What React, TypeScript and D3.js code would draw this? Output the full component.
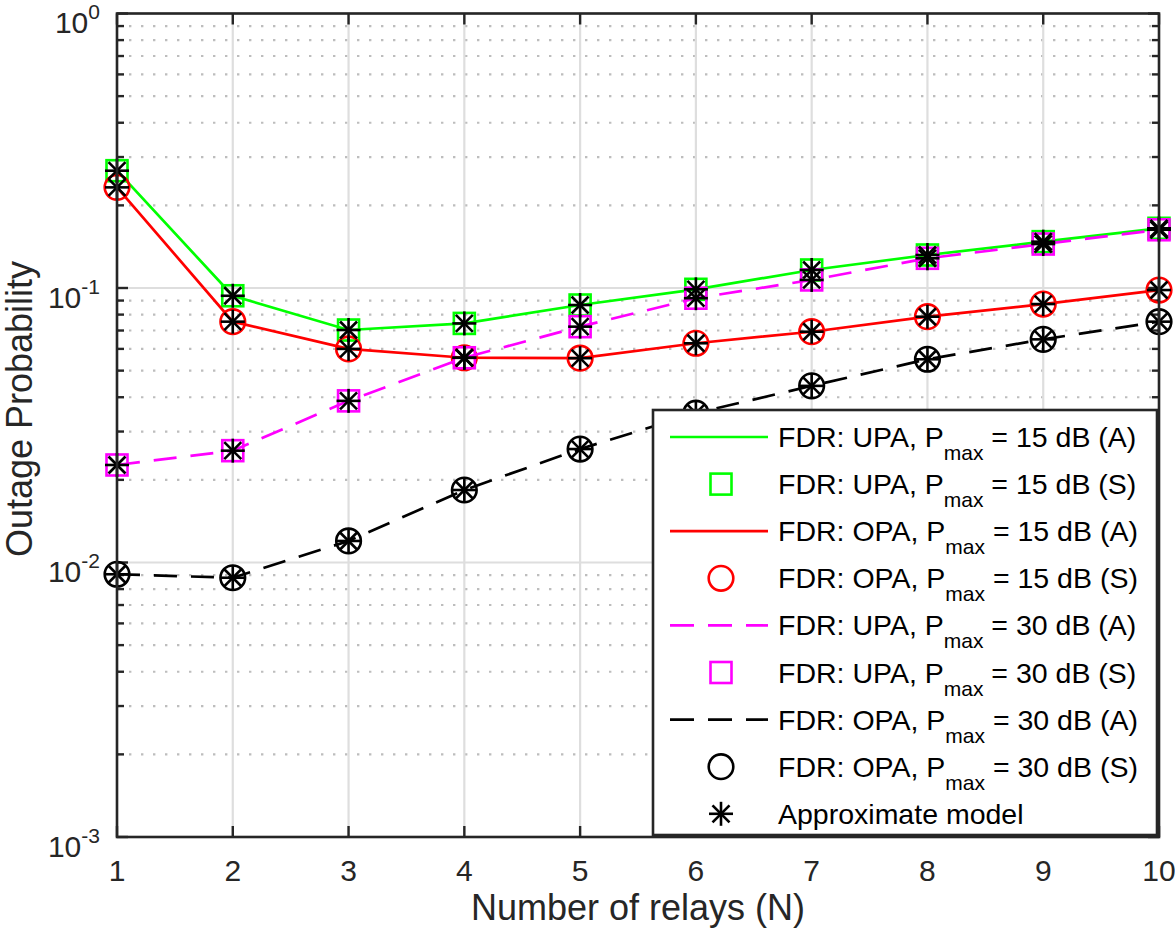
import React from "react";
import * as d3 from "d3";

const relays = [1, 2, 3, 4, 5, 6, 7, 8, 9, 10];
const upa15 = [0.2675, 0.0937, 0.0703, 0.0743, 0.0867, 0.0989, 0.1163, 0.1319, 0.1475, 0.165];
const opa15 = [0.2326, 0.0754, 0.06, 0.0557, 0.0555, 0.0629, 0.0693, 0.0786, 0.0874, 0.0983];
const upa30 = [0.02266, 0.02555, 0.0388, 0.0557, 0.0723, 0.0918, 0.107, 0.1283, 0.1446, 0.163];
const opa30 = [0.00906, 0.0088, 0.01198, 0.01837, 0.0259, 0.035, 0.044, 0.055, 0.065, 0.0754];
const yDecades = [-3, -2, -1, 0];
const xTicks = relays;

const W = 1175;
const H = 934;
const L = 117, R = 1159, T = 13.5, B = 837;
const AX = "#262626";
const FONT = "'Liberation Sans', Arial, Helvetica, sans-serif";

type Series = { values: number[]; color: string; dash?: string; marker: "square" | "circle"; pmax: string; alg: string };
const seriesList: Series[] = [
  { values: upa15, color: "#00ff00", marker: "square", pmax: "15", alg: "UPA" },
  { values: opa15, color: "#ff0000", marker: "circle", pmax: "15", alg: "OPA" },
  { values: upa30, color: "#ff00ff", dash: "23 14", marker: "square", pmax: "30", alg: "UPA" },
  { values: opa30, color: "#000000", dash: "23 14", marker: "circle", pmax: "30", alg: "OPA" },
];

function Marker({ kind, x, y, color }: { kind: string; x: number; y: number; color: string }) {
  if (kind === "square")
    return <rect x={x - 10.5} y={y - 10.5} width={21} height={21} fill="none" stroke={color} strokeWidth={2.6} />;
  if (kind === "circle") return <circle cx={x} cy={y} r={12.3} fill="none" stroke={color} strokeWidth={2.6} />;
  const a = 12, d = 8.5;
  return (
    <g stroke="#000" strokeWidth={2.6}>
      <line x1={x - a} y1={y} x2={x + a} y2={y} />
      <line x1={x} y1={y - a} x2={x} y2={y + a} />
      <line x1={x - d} y1={y - d} x2={x + d} y2={y + d} />
      <line x1={x - d} y1={y + d} x2={x + d} y2={y - d} />
    </g>
  );
}

export default function App() {
  const x = d3.scaleLinear().domain([1, 10]).range([L, R]);
  const y = d3.scaleLog().domain([1e-3, 1]).range([B, T]);
  const line = d3
    .line<number>()
    .x((_, i) => x(relays[i]))
    .y((v) => y(v));

  const minor: number[] = [];
  for (let e = -3; e < 0; e++) for (let k = 2; k <= 9; k++) minor.push(k * Math.pow(10, e));

  const legendItems: { kind: "line" | "square" | "circle" | "star"; color: string; dash?: string; s?: Series; tag?: string }[] = [];
  seriesList.forEach((s) => {
    legendItems.push({ kind: "line", color: s.color, dash: s.dash, s, tag: "A" });
    legendItems.push({ kind: s.marker, color: s.color, s, tag: "S" });
  });
  legendItems.push({ kind: "star", color: "#000" });

  const lgX = 653, lgY = 410, lgW = 504, lgH = 425;
  const row0 = 437, rowStep = 47.1;

  return (
    <svg width={W} height={H} style={{ position: "absolute", left: 0, top: 0, background: "#fff" }} fontFamily={FONT}>
      <rect x={0} y={0} width={W} height={H} fill="#fff" />
      {/* minor grid */}
      {minor.map((v) => (
        <line key={"mg" + v} x1={L} x2={R} y1={y(v)} y2={y(v)} stroke="#bdbdbd" strokeWidth={2.2} strokeDasharray="2.4 9.6" />
      ))}
      {/* major grid */}
      {xTicks.map((t) => (
        <line key={"xg" + t} x1={x(t)} x2={x(t)} y1={T} y2={B} stroke="#dedede" strokeWidth={2.2} />
      ))}
      {yDecades.map((e) => (
        <line key={"yg" + e} x1={L} x2={R} y1={y(Math.pow(10, e))} y2={y(Math.pow(10, e))} stroke="#dedede" strokeWidth={2.2} />
      ))}
      {/* ticks */}
      {xTicks.map((t) => (
        <g key={"xt" + t} stroke={AX} strokeWidth={2.4}>
          <line x1={x(t)} x2={x(t)} y1={B} y2={B - 11} />
          <line x1={x(t)} x2={x(t)} y1={T} y2={T + 11} />
        </g>
      ))}
      {yDecades.map((e) => (
        <g key={"yt" + e} stroke={AX} strokeWidth={2.4}>
          <line x1={L} x2={L + 11} y1={y(Math.pow(10, e))} y2={y(Math.pow(10, e))} />
          <line x1={R} x2={R - 11} y1={y(Math.pow(10, e))} y2={y(Math.pow(10, e))} />
        </g>
      ))}
      {minor.map((v) => (
        <g key={"mt" + v} stroke={AX} strokeWidth={2.4}>
          <line x1={L} x2={L + 7} y1={y(v)} y2={y(v)} />
          <line x1={R} x2={R - 7} y1={y(v)} y2={y(v)} />
        </g>
      ))}
      {/* series lines and markers */}
      {seriesList.map((s, i) => (
        <g key={"s" + i}>
          <path d={line(s.values) || ""} fill="none" stroke={s.color} strokeWidth={2.7} strokeDasharray={s.dash} />
          {s.values.map((v, j) => (
            <Marker key={j} kind={s.marker} x={x(relays[j])} y={y(v)} color={s.color} />
          ))}
        </g>
      ))}
      {seriesList.map((s, i) => (
        <g key={"a" + i}>
          {s.values.map((v, j) => (
            <Marker key={j} kind="star" x={x(relays[j])} y={y(v)} color="#000" />
          ))}
        </g>
      ))}
      {/* axes box */}
      <rect x={L} y={T} width={R - L} height={B - T} fill="none" stroke={AX} strokeWidth={2.6} />
      {/* tick labels */}
      {xTicks.map((t) => (
        <text key={"xl" + t} x={x(t)} y={881} textAnchor="middle" fontSize={30} fill={AX}>
          {t}
        </text>
      ))}
      {yDecades.map((e) => (
        <text key={"yl" + e} x={100} y={y(Math.pow(10, e)) + 19.5} textAnchor="end" fontSize={30} fill={AX}>
          10
          <tspan fontSize={21} dy={-14}>
            {e === 0 ? "0" : String(e)}
          </tspan>
        </text>
      ))}
      <text x={(L + R) / 2} y={920} textAnchor="middle" fontSize={36} fill={AX}>
        Number of relays (N)
      </text>
      <text transform="translate(32,409) rotate(-90)" textAnchor="middle" fontSize={36} fill={AX}>
        Outage Probability
      </text>
      {/* legend */}
      <rect x={lgX} y={lgY} width={lgW} height={lgH} fill="#fff" stroke={AX} strokeWidth={2.6} />
      {legendItems.map((it, i) => {
        const cy = row0 + i * rowStep;
        return (
          <g key={"lg" + i}>
            {it.kind === "line" ? (
              <line x1={670} x2={768} y1={cy} y2={cy} stroke={it.color} strokeWidth={2.7} strokeDasharray={it.dash ? "24 14" : undefined} />
            ) : (
              <Marker kind={it.kind} x={721} y={cy} color={it.color} />
            )}
            {it.s ? (
              <text x={778} y={cy + 10} fontSize={28.5} fill="#000">
                {`FDR: ${it.s.alg}, P`}
                <tspan fontSize={21} dy={13}>max</tspan>
                <tspan dy={-13}>{`  = ${it.s.pmax} dB (${it.tag})`}</tspan>
              </text>
            ) : (
              <text x={778} y={cy + 10} fontSize={28.5} fill="#000">
                Approximate model
              </text>
            )}
          </g>
        );
      })}
    </svg>
  );
}
